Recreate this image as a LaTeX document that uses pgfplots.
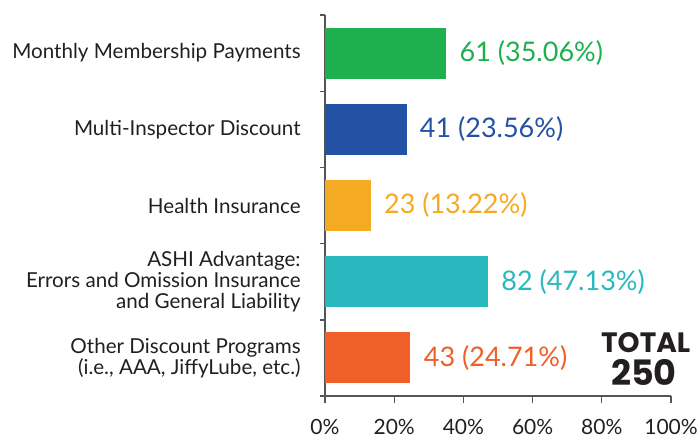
\documentclass[border=0pt]{standalone}
\usepackage{fontspec}
\setmainfont{Lato}
\newfontfamily\heavyfont{Poppins}
\usepackage{pgfplots}
\pgfplotsset{compat=1.18}
\definecolor{cgreen}{HTML}{1EB04E}
\definecolor{cblue}{HTML}{2352A5}
\definecolor{cyellow}{HTML}{F4AA23}
\definecolor{cteal}{HTML}{29B8BE}
\definecolor{corange}{HTML}{F05F28}
\definecolor{axisgray}{HTML}{555555}
\definecolor{txt}{HTML}{231F20}
\begin{document}
\begin{tikzpicture}
\useasboundingbox (-162.5pt,-21pt) rectangle (187pt,198pt);
\begin{axis}[
  at={(0,0)}, anchor=south west,
  scale only axis, width=173pt, height=190.5pt,
  xmin=0, xmax=100, ymin=0.5, ymax=5.5,
  y dir=reverse,
  axis x line=bottom, axis y line=left,
  axis line style={-, axisgray, line width=1pt},
  xtick={0,20,40,60,80,100},
  xticklabels={0\%,20\%,40\%,60\%,80\%,100\%},
  ytick={1,2,3,4,5},
  yticklabels={{Monthly Membership Payments},{Multi-Inspector Discount},{Health Insurance},{ASHI Advantage:\\Errors and Omission Insurance\\and General Liability},{Other Discount Programs\\(i.e., AAA, JiffyLube, etc.)}},
  minor ytick={0.5,1.5,2.5,3.5,4.5,5.5},
  tick align=outside,
  major tick length=3.5pt,
  minor tick length=2.5pt,
  ytick style={/pgfplots/major tick length=0pt},
  minor tick style={draw=axisgray, line width=0.7pt},
  xtick style={axisgray, line width=0.6pt},
  yticklabel style={align=right, inner sep=0pt, xshift=-8.5pt, text=txt, font={\fontsize{10.3}{10.6}\selectfont}},
  xticklabel style={inner sep=0pt, yshift=-8pt, text=txt, font={\fontsize{10.5}{12}\selectfont}},
  xbar, bar width=25.5pt, bar shift=0pt,
  point meta=explicit symbolic,
  nodes near coords,
  nodes near coords style={anchor=west, inner sep=0pt, xshift=6.5pt, font={\fontsize{13.5}{15}\selectfont}},
  clip=false,
]
\addplot[fill=cgreen, draw=none, nodes near coords style={text=cgreen}] coordinates {(35.06,1) [61 (35.06\%)]};
\addplot[fill=cblue, draw=none, nodes near coords style={text=cblue}] coordinates {(23.56,2) [41 (23.56\%)]};
\addplot[fill=cyellow, draw=none, nodes near coords style={text=cyellow}] coordinates {(13.22,3) [23 (13.22\%)]};
\addplot[fill=cteal, draw=none, nodes near coords style={text=cteal}] coordinates {(47.13,4) [82 (47.13\%)]};
\addplot[fill=corange, draw=none, nodes near coords style={text=corange}] coordinates {(24.71,5) [43 (24.71\%)]};
\node[text=txt, inner sep=0pt, font={\heavyfont\bfseries\fontsize{14}{15}\selectfont}] at (rel axis cs:0.927,0.139) {TOTAL};
\node[text=txt, inner sep=0pt, font={\heavyfont\bfseries\fontsize{17.5}{18}\selectfont}] at (rel axis cs:0.922,0.062) {250};
\end{axis}
\end{tikzpicture}
\end{document}
